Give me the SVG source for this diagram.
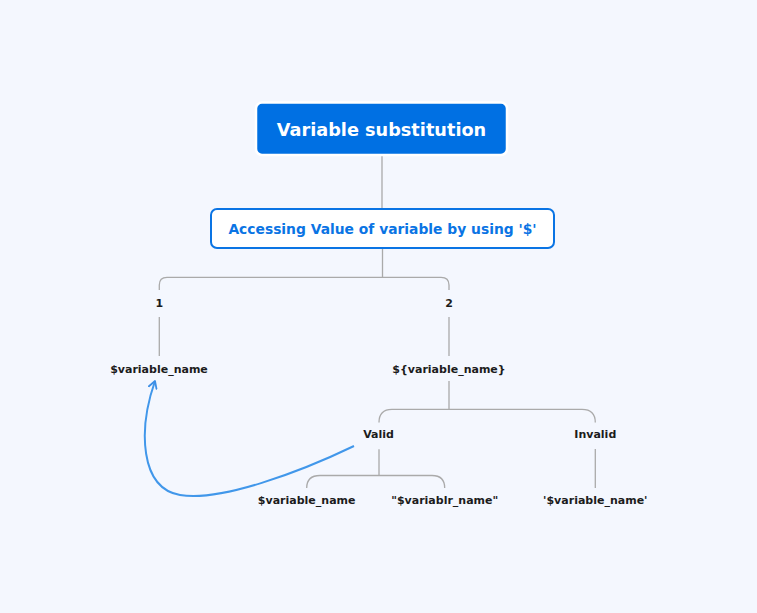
<svg xmlns="http://www.w3.org/2000/svg" width="757" height="613" viewBox="0 0 757 613">
<style>
text{font-family:"DejaVu Sans",Verdana,sans-serif;font-weight:bold}
.lbl{font-size:11px;fill:#1c1c1c;text-anchor:middle}
.ln{fill:none;stroke:#aaaaaa;stroke-width:1.3}
</style>
<defs>
<marker id="ah" viewBox="0 0 10 10" refX="8" refY="5" markerWidth="10" markerHeight="10" markerUnits="userSpaceOnUse" orient="auto">
<path d="M1,1 L8,5 L1,9" fill="none" stroke="#3d8fe6" stroke-width="1.8" stroke-linecap="round" stroke-linejoin="round"/>
</marker>
</defs>
<rect width="757" height="613" fill="#f4f7fe"/>
<g id="connectors">
<path class="ln" d="M382,155 V208"/>
<path class="ln" d="M382.5,248 V277.3 M159.3,290 V285 Q159.3,277.3 167,277.3 H441 Q449,277.3 449,285 V290"/>
<path class="ln" d="M159.3,317 V356"/>
<path class="ln" d="M449,317 V356"/>
<path class="ln" d="M449,381 V409.3 M379,422.5 Q379,409.3 392,409.3 H582 Q595.3,409.3 595.3,422.5"/>
<path class="ln" d="M379,449.3 V475.5 M306.7,488 Q306.7,475.5 320,475.5 H432 Q444.7,475.5 444.7,488"/>
<path class="ln" d="M595.3,449 V488"/>
<path d="M354,446 C300,472 220,502 180,495 C140,488 138,430 155,381" fill="none" stroke="#4197ea" stroke-width="2" marker-end="url(#ah)"/>
</g>
<g id="root">
<rect x="256" y="102.5" width="251" height="52.5" rx="6" fill="#0070e3" stroke="#ffffff" stroke-width="2.5"/>
<text x="381.5" y="135.7" font-size="17.7" fill="#ffffff" text-anchor="middle">Variable substitution</text>
</g>
<g id="access">
<rect x="211" y="209" width="343" height="39" rx="6" fill="#ffffff" stroke="#0a74e4" stroke-width="2"/>
<text x="382.5" y="233.5" font-size="13.85" fill="#0a74e4" text-anchor="middle">Accessing Value of variable by using '$'</text>
</g>
<g id="n1"><text class="lbl" x="159.3" y="306.7">1</text></g>
<g id="n2"><text class="lbl" x="449" y="306.7">2</text></g>
<g id="dollar"><text class="lbl" x="159" y="372.7">$variable_name</text></g>
<g id="brace"><text class="lbl" x="449" y="372.7">${variable_name}</text></g>
<g id="valid"><text class="lbl" x="378.5" y="438.3">Valid</text></g>
<g id="invalid"><text class="lbl" x="595.3" y="438.3">Invalid</text></g>
<g id="v1"><text class="lbl" x="306.7" y="504.3">$variable_name</text></g>
<g id="v2"><text class="lbl" x="444.7" y="504.3">"$variablr_name"</text></g>
<g id="i1"><text class="lbl" x="595.3" y="504.3">'$variable_name'</text></g>
</svg>
